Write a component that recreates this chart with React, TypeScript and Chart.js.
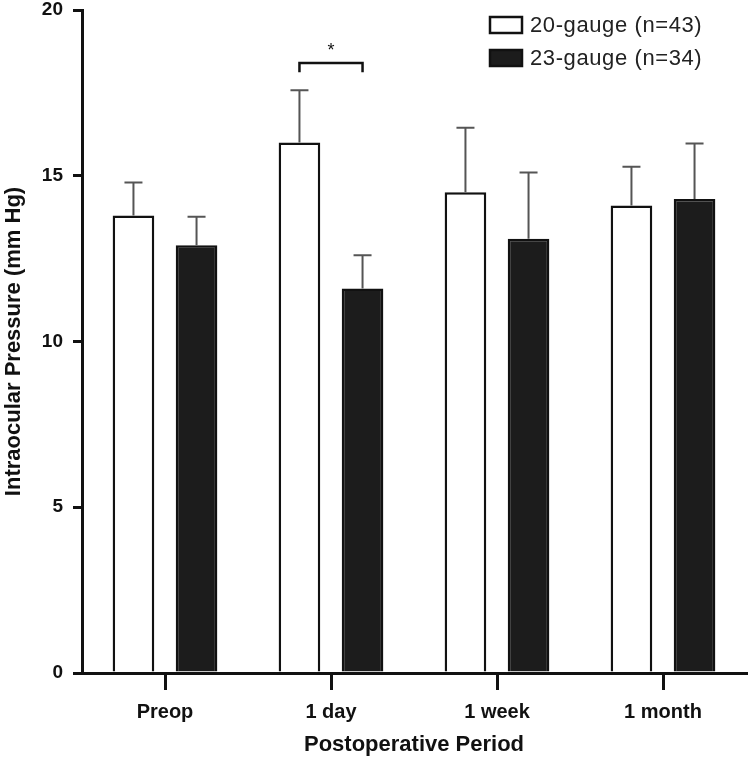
import React, { useEffect, useRef } from 'react';
import { Chart, registerables } from 'chart.js';

Chart.register(...registerables);

const categories = ['Preop', '1 day', '1 week', '1 month'];
const seriesLabels = ['20-gauge (n=43)', '23-gauge (n=34)'];
const gauge20Means = [13.8, 16.0, 14.5, 14.1];
const gauge20Sd = [1.0, 1.58, 1.95, 1.17];
const gauge23Means = [12.9, 11.6, 13.1, 14.3];
const gauge23Sd = [0.86, 1.0, 2.0, 1.67];
const yTicks = [0, 5, 10, 15, 20];
const significantIndex = 1;
const significanceLevel = 18.4;
const significanceMark = '*';

const FONT = '"Liberation Sans", Arial, Helvetica, sans-serif';

const errorBarPlugin = {
  id: 'errorBars',
  afterDatasetsDraw(chart: any) {
    const ctx = chart.ctx;
    const y = chart.scales.y;
    chart.data.datasets.forEach((ds: any, i: number) => {
      const meta = chart.getDatasetMeta(i);
      meta.data.forEach((el: any, j: number) => {
        const top = y.getPixelForValue(ds.data[j] + ds.errors[j]);
        const x = el.x;
        ctx.save();
        ctx.strokeStyle = '#555';
        ctx.lineWidth = 2;
        ctx.beginPath();
        ctx.moveTo(x, el.y);
        ctx.lineTo(x, top);
        ctx.moveTo(x - 9, top);
        ctx.lineTo(x + 9, top);
        ctx.stroke();
        ctx.restore();
      });
    });
  },
};

const bracketPlugin = {
  id: 'bracket',
  afterDatasetsDraw(chart: any) {
    const ctx = chart.ctx;
    const y = chart.scales.y;
    const a = chart.getDatasetMeta(0).data[significantIndex];
    const b = chart.getDatasetMeta(1).data[significantIndex];
    if (!a || !b) return;
    const yb = y.getPixelForValue(significanceLevel);
    const yt = y.getPixelForValue(significanceLevel - 0.28);
    ctx.save();
    ctx.strokeStyle = '#111';
    ctx.lineWidth = 2.5;
    ctx.beginPath();
    ctx.moveTo(a.x, yt);
    ctx.lineTo(a.x, yb);
    ctx.lineTo(b.x, yb);
    ctx.lineTo(b.x, yt);
    ctx.stroke();
    ctx.fillStyle = '#111';
    ctx.font = `18px ${FONT}`;
    ctx.textAlign = 'center';
    ctx.textBaseline = 'alphabetic';
    ctx.fillText(significanceMark, (a.x + b.x) / 2, yb - 7);
    ctx.restore();
  },
};

const legendPlugin = {
  id: 'customLegend',
  afterDraw(chart: any) {
    const ctx = chart.ctx;
    const area = chart.chartArea;
    const bx = area.right - 256;
    const by = area.top + 7;
    ctx.save();
    chart.data.datasets.forEach((ds: any, i: number) => {
      const yy = by + i * 33;
      ctx.fillStyle = ds.backgroundColor;
      ctx.fillRect(bx, yy, 32, 16);
      ctx.strokeStyle = '#111';
      ctx.lineWidth = 2.5;
      ctx.strokeRect(bx, yy, 32, 16);
      ctx.fillStyle = '#222';
      ctx.font = `22px ${FONT}`;
      (ctx as any).letterSpacing = '0.6px';
      ctx.textAlign = 'left';
      ctx.textBaseline = 'middle';
      ctx.fillText(ds.label, bx + 40, yy + 9);
      (ctx as any).letterSpacing = '0px';
    });
    ctx.restore();
  },
};

export default function App() {
  const ref = useRef<HTMLCanvasElement | null>(null);

  useEffect(() => {
    if (!ref.current) return;
    const chart = new Chart(ref.current, {
      type: 'bar',
      data: {
        labels: categories,
        datasets: [
          {
            label: seriesLabels[0],
            data: gauge20Means,
            errors: gauge20Sd,
            backgroundColor: '#ffffff',
            borderColor: '#111111',
            borderWidth: 2.5,
          } as any,
          {
            label: seriesLabels[1],
            data: gauge23Means,
            errors: gauge23Sd,
            backgroundColor: '#1c1c1c',
            borderColor: '#111111',
            borderWidth: 2.5,
          } as any,
        ],
      },
      options: {
        animation: false,
        responsive: false,
        devicePixelRatio: 1,
        layout: { padding: { top: 10, right: 2, left: 0, bottom: 0 } },
        datasets: {
          bar: { categoryPercentage: 0.76, barPercentage: 0.66 },
        },
        plugins: {
          legend: { display: false },
          tooltip: { enabled: false },
          title: { display: false },
        },
        scales: {
          x: {
            offset: true,
            grid: {
              offset: false,
              drawOnChartArea: false,
              drawTicks: true,
              tickLength: 17,
              lineWidth: 3,
              color: '#111',
            },
            border: { display: true, width: 3, color: '#111' },
            ticks: {
              color: '#111',
              padding: 10,
              font: { family: FONT, size: 20, weight: 'bold' },
            },
            title: {
              display: true,
              text: 'Postoperative Period',
              color: '#111',
              font: { family: FONT, size: 22, weight: 'bold' },
              padding: { top: 0, bottom: 4 },
            },
            afterFit: (scale: any) => {
              scale.height = 89;
              scale.paddingLeft = 0;
              scale.paddingRight = 0;
            },
          } as any,
          y: {
            min: 0,
            max: 20,
            grid: {
              drawOnChartArea: false,
              drawTicks: true,
              tickLength: 9,
              lineWidth: 3,
              color: '#111',
            },
            border: { display: true, width: 3, color: '#111' },
            ticks: {
              color: '#111',
              padding: 10,
              font: { family: FONT, size: 19, weight: 'bold' },
            },
            afterBuildTicks: (scale: any) => {
              scale.ticks = yTicks.map((v) => ({ value: v }));
            },
            title: {
              display: true,
              text: 'Intraocular Pressure (mm Hg)',
              color: '#111',
              font: { family: FONT, size: 22, weight: 'bold' },
              padding: { top: 1, bottom: 0 },
            },
            afterFit: (scale: any) => {
              scale.width = 82;
              scale.paddingTop = 0;
              scale.paddingBottom = 0;
            },
          } as any,
        },
      },
      plugins: [errorBarPlugin, bracketPlugin, legendPlugin],
    });
    return () => chart.destroy();
  }, []);

  return (
    <div style={{ position: 'fixed', left: 0, top: 0, width: 748, height: 762, background: '#fff' }}>
      <canvas ref={ref} width={748} height={762} style={{ display: 'block' }} />
    </div>
  );
}
